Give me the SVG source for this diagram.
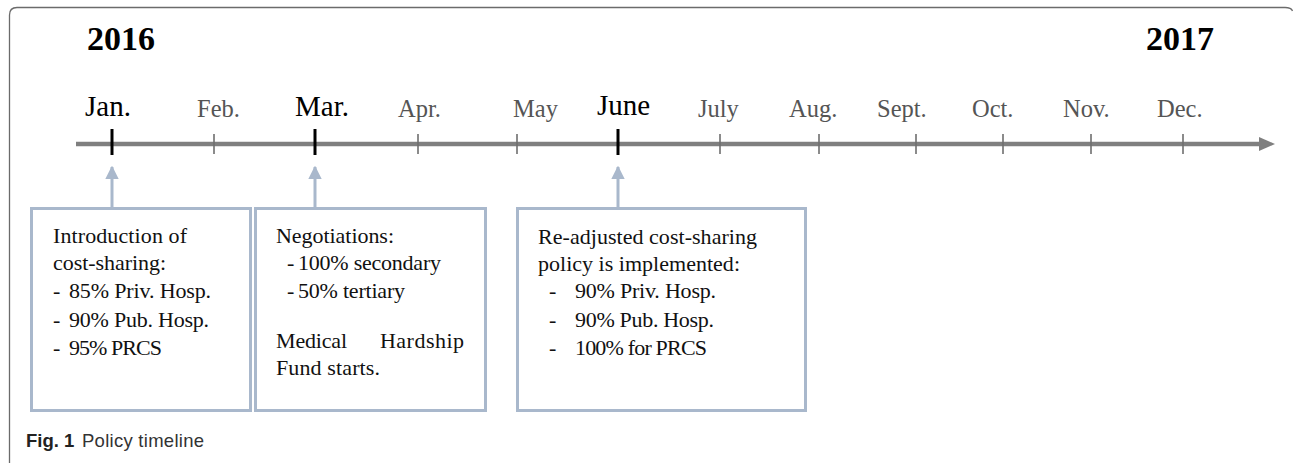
<svg xmlns="http://www.w3.org/2000/svg" width="1293" height="463" viewBox="0 0 1293 463">
<defs>
<style>
.frame{fill:none;stroke:#6b6b6b;stroke-width:1.3}
.axis{stroke:#7f7f7f;stroke-width:4.5;fill:none}
.minor{stroke:#6e6e6e;stroke-width:1.6}
.major{stroke:#000;stroke-width:3}
.year{font-family:"Liberation Serif",serif;font-weight:bold;font-size:34px;fill:#000}
.mj{font-family:"Liberation Serif",serif;font-size:29px;fill:#000}
.mn{font-family:"Liberation Serif",serif;font-size:24.5px;fill:#555}
.box{fill:#fff;stroke:#a9b8cc;stroke-width:3}
.conn{stroke:#a9b8cc;stroke-width:3;fill:none}
.bt{font-family:"Liberation Serif",serif;font-size:22px;fill:#111}
.cap{font-family:"Liberation Sans",sans-serif;font-size:18.5px;fill:#333}
</style>
<marker id="ah" viewBox="0 0 10 10" refX="9" refY="5" markerWidth="4.5" markerHeight="4.5" orient="auto" markerUnits="strokeWidth">
<path d="M0,0 L10,5 L0,10 z" fill="#a9b8cc"/>
</marker>
</defs>
<rect width="1293" height="463" fill="#fff"/>
<path class="frame" d="M9.5,463 V15 Q9.5,7.5 17,7.5 H1285 Q1291.5,7.5 1292.5,11"/>
<g id="years">
<text class="year" x="87" y="50">2016</text>
<text class="year" x="1146" y="50">2017</text>
</g>
<g id="timeline">
<line class="axis" x1="76" y1="144" x2="1262" y2="144"/>
<polygon points="1259,137 1275,144 1259,151" fill="#7f7f7f"/>
<line class="major" x1="112" y1="129" x2="112" y2="155"/>
<line class="minor" x1="214" y1="134" x2="214" y2="154"/>
<line class="major" x1="315" y1="129" x2="315" y2="155"/>
<line class="minor" x1="418" y1="134" x2="418" y2="154"/>
<line class="minor" x1="517" y1="134" x2="517" y2="154"/>
<line class="major" x1="618" y1="129" x2="618" y2="155"/>
<line class="minor" x1="720" y1="134" x2="720" y2="154"/>
<line class="minor" x1="819" y1="134" x2="819" y2="154"/>
<line class="minor" x1="916" y1="134" x2="916" y2="154"/>
<line class="minor" x1="1003" y1="134" x2="1003" y2="154"/>
<line class="minor" x1="1091" y1="134" x2="1091" y2="154"/>
<line class="minor" x1="1183" y1="134" x2="1183" y2="154"/>
<text class="mj" x="85" y="116">Jan.</text>
<text class="mn" x="197" y="117">Feb.</text>
<text class="mj" x="295" y="116">Mar.</text>
<text class="mn" x="398" y="117">Apr.</text>
<text class="mn" x="513" y="117">May</text>
<text class="mj" x="597" y="115">June</text>
<text class="mn" x="698" y="117">July</text>
<text class="mn" x="789" y="117">Aug.</text>
<text class="mn" x="877" y="117">Sept.</text>
<text class="mn" x="972" y="117">Oct.</text>
<text class="mn" x="1063" y="117">Nov.</text>
<text class="mn" x="1157" y="117">Dec.</text>
</g>
<g id="connectors">
<line class="conn" x1="112" y1="208" x2="112" y2="167" marker-end="url(#ah)"/>
<line class="conn" x1="315" y1="208" x2="315" y2="167" marker-end="url(#ah)"/>
<line class="conn" x1="618" y1="208" x2="618" y2="167" marker-end="url(#ah)"/>
</g>
<g id="box-jan">
<rect class="box" x="31.5" y="208.5" width="219" height="202"/>
<text class="bt" x="53" y="243" textLength="134">Introduction of</text>
<text class="bt" x="53" y="270" textLength="113">cost-sharing:</text>
<text class="bt" x="53" y="298">-</text>
<text class="bt" x="69" y="298" textLength="142">85% Priv. Hosp.</text>
<text class="bt" x="53" y="327">-</text>
<text class="bt" x="69" y="327" textLength="140">90% Pub. Hosp.</text>
<text class="bt" x="53" y="355">-</text>
<text class="bt" x="69" y="355" textLength="93">95% PRCS</text>
</g>
<g id="box-mar">
<rect class="box" x="255.5" y="208.5" width="230" height="202"/>
<text class="bt" x="276" y="243" textLength="118">Negotiations:</text>
<text class="bt" x="287" y="270">-</text>
<text class="bt" x="298" y="270" textLength="143">100% secondary</text>
<text class="bt" x="287" y="298">-</text>
<text class="bt" x="298" y="298" textLength="107">50% tertiary</text>
<text class="bt" x="276" y="348" textLength="71">Medical</text>
<text class="bt" x="380" y="348" textLength="84">Hardship</text>
<text class="bt" x="276" y="375" textLength="104">Fund starts.</text>
</g>
<g id="box-june">
<rect class="box" x="517.5" y="208.5" width="288" height="202"/>
<text class="bt" x="538" y="244" textLength="219">Re-adjusted cost-sharing</text>
<text class="bt" x="538" y="271" textLength="202">policy is implemented:</text>
<text class="bt" x="549" y="298">-</text>
<text class="bt" x="575" y="298" textLength="141">90% Priv. Hosp.</text>
<text class="bt" x="549" y="327">-</text>
<text class="bt" x="575" y="327" textLength="139">90% Pub. Hosp.</text>
<text class="bt" x="549" y="355">-</text>
<text class="bt" x="575" y="355" textLength="132">100% for PRCS</text>
</g>
<g id="caption">
<text class="cap" x="26" y="447"><tspan font-weight="bold" fill="#222">Fig. 1</tspan><tspan x="82" textLength="122">Policy timeline</tspan></text>
</g>
</svg>
